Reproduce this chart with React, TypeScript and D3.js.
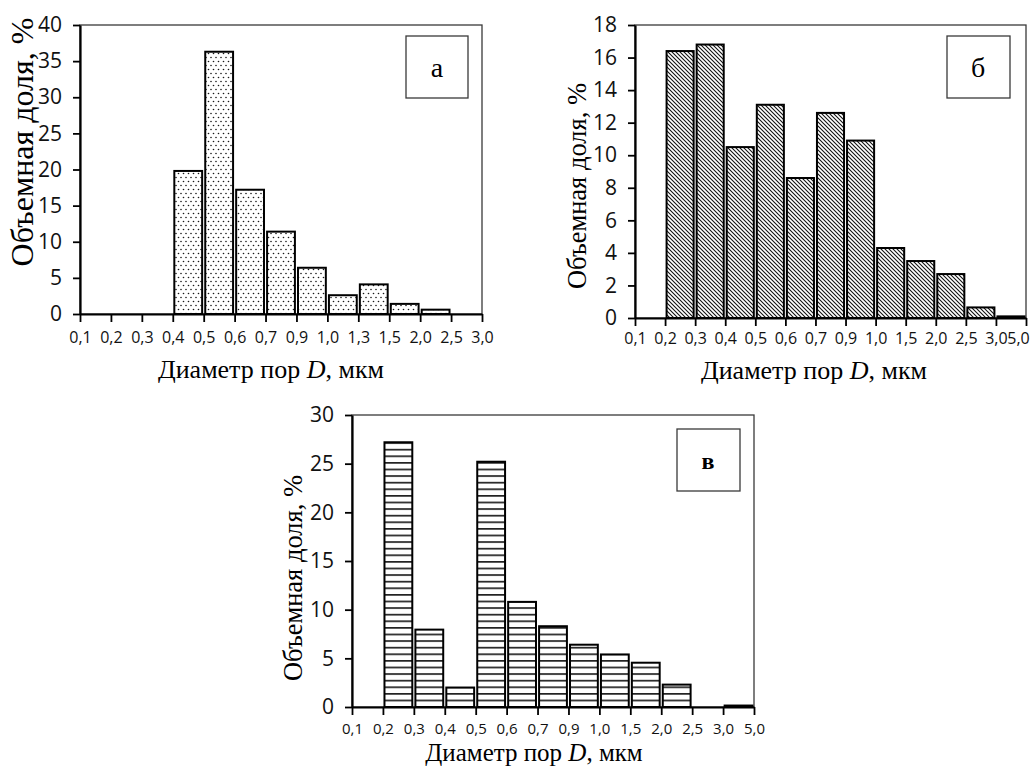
import { useEffect, useRef } from 'react'
import * as d3 from 'd3'

// границы интервалов диаметра пор, мкм (подписи оси X)
const edgesA = ['0,1', '0,2', '0,3', '0,4', '0,5', '0,6', '0,7', '0,9', '1,0', '1,3', '1,5', '2,0', '2,5', '3,0']
const edgesB = ['0,1', '0,2', '0,3', '0,4', '0,5', '0,6', '0,7', '0,9', '1,0', '1,5', '2,0', '2,5', '3,0', '5,0']
const edgesV = ['0,1', '0,2', '0,3', '0,4', '0,5', '0,6', '0,7', '0,9', '1,0', '1,5', '2,0', '2,5', '3,0', '5,0']

// объемная доля, % (по интервалам)
const shareA = [0, 0, 0, 19.8, 36.3, 17.2, 11.4, 6.4, 2.6, 4.1, 1.4, 0.6, 0]
const shareB = [0, 16.4, 16.8, 10.5, 13.1, 8.6, 12.6, 10.9, 4.3, 3.5, 2.7, 0.65, 0.1]
const shareV = [0, 27.2, 7.95, 2.0, 25.2, 10.8, 8.3, 6.4, 5.4, 4.55, 2.3, 0, 0.15]

const yTitle = 'Объемная доля, %'
const serif = '"Liberation Serif", "Times New Roman", serif'
const sans = '"Open Sans", "Noto Sans", sans-serif'

const panels = [
    {
        edges: edgesA, values: shareA, yMax: 40, yStep: 5, fill: 'url(#dots)', label: 'а', labelBold: false, labelSize: 28,
        left: 80, right: 482, top: 25, bottom: 314, xPad: 10, lastShift: 0, xTickSize: 16,
        box: [406, 36, 62, 62], labelX: 437, labelY: 77,
        yTitleX: 33, yTitleY: 142, yTitleSize: 32,
        xTitleX: 271, xTitleY: 378, xTitleSize: 26,
    },
    {
        edges: edgesB, values: shareB, yMax: 18, yStep: 2, fill: 'url(#diag)', label: 'б', labelBold: false, labelSize: 28,
        left: 635, right: 1026, top: 25, bottom: 318, xPad: 7, lastShift: -8, xTickSize: 16,
        box: [947, 36, 63, 62], labelX: 978, labelY: 77,
        yTitleX: 586, yTitleY: 186, yTitleSize: 26.5,
        xTitleX: 814, xTitleY: 379, xTitleSize: 26,
    },
    {
        edges: edgesV, values: shareV, yMax: 30, yStep: 5, fill: 'url(#hlines)', label: 'в', labelBold: true, labelSize: 24,
        left: 352, right: 754, top: 415, bottom: 707, xPad: 8, lastShift: 0, xTickSize: 15,
        box: [677, 429, 63, 62], labelX: 708, labelY: 469,
        yTitleX: 302, yTitleY: 578, yTitleSize: 26.5,
        xTitleX: 534, xTitleY: 761, xTitleSize: 25,
    },
]

const drawPanel = (root: any, cfg: any) => {
    const g = root.append('g')
    const bins = cfg.values.map((v: number, i: number) => ({ key: cfg.edges[i] + '-' + cfg.edges[i + 1], v }))

    const xEdge = d3.scalePoint<string>().domain(cfg.edges).range([cfg.left, cfg.right])
    const xBin = d3.scaleBand<string>()
        .domain(bins.map((d: any) => d.key))
        .range([cfg.left, cfg.right])
        .paddingInner(0.1)
        .paddingOuter(0.05)
    const y = d3.scaleLinear().domain([0, cfg.yMax]).range([cfg.bottom, cfg.top])

    // рамка области построения
    g.append('rect')
        .attr('x', cfg.left).attr('y', cfg.top)
        .attr('width', cfg.right - cfg.left).attr('height', cfg.bottom - cfg.top)
        .attr('fill', 'none').attr('stroke', '#3a3a3a').attr('stroke-width', 1.3)

    g.append('g')
        .selectAll('rect')
        .data(bins.filter((d: any) => d.v > 0))
        .enter()
        .append('rect')
        .attr('x', (d: any) => xBin(d.key))
        .attr('y', (d: any) => y(d.v))
        .attr('width', xBin.bandwidth())
        .attr('height', (d: any) => y(0) - y(d.v))
        .attr('fill', cfg.fill)
        .attr('stroke', '#000')
        .attr('stroke-width', 2)

    const yAxis = d3.axisLeft(y)
        .tickValues(d3.range(0, cfg.yMax + cfg.yStep / 2, cfg.yStep))
        .tickSize(7).tickSizeOuter(0).tickPadding(11)
        .tickFormat(d3.format('d') as any)
    const ya = g.append('g').attr('transform', `translate(${cfg.left},0)`).call(yAxis)

    const xAxis = d3.axisBottom(xEdge).tickSize(8).tickSizeOuter(0).tickPadding(cfg.xPad)
    const xa = g.append('g').attr('transform', `translate(0,${cfg.bottom})`).call(xAxis)

    ;[ya, xa].forEach(a => {
        a.select('.domain').attr('stroke', '#000').attr('stroke-width', 2.2)
        a.selectAll('.tick line').attr('stroke', '#000').attr('stroke-width', 1.8)
        a.selectAll('.tick text').attr('fill', '#111').style('font-family', sans)
    })
    ya.selectAll('.tick text').style('font-size', '21px')
    xa.selectAll('.tick text').style('font-size', cfg.xTickSize + 'px')
    // последняя подпись у края листа чуть сдвинута влево
    xa.selectAll('.tick text').filter((d: any, i: number, n: any) => i === n.length - 1).attr('dx', cfg.lastShift)

    // подпись панели
    const [bx, by, bw, bh] = cfg.box
    g.append('rect').attr('x', bx).attr('y', by).attr('width', bw).attr('height', bh)
        .attr('fill', '#fff').attr('stroke', '#3a3a3a').attr('stroke-width', 1.3)
    g.append('text').attr('x', cfg.labelX).attr('y', cfg.labelY)
        .attr('text-anchor', 'middle')
        .style('font-family', serif).style('font-size', cfg.labelSize + 'px')
        .style('font-weight', cfg.labelBold ? 'bold' : 'normal')
        .text(cfg.label)

    g.append('text')
        .attr('transform', `translate(${cfg.yTitleX},${cfg.yTitleY}) rotate(-90)`)
        .attr('text-anchor', 'middle')
        .style('font-family', serif).style('font-size', cfg.yTitleSize + 'px')
        .text(yTitle)

    const xt = g.append('text').attr('x', cfg.xTitleX).attr('y', cfg.xTitleY)
        .attr('text-anchor', 'middle')
        .style('font-family', serif).style('font-size', cfg.xTitleSize + 'px')
    xt.append('tspan').text('Диаметр пор ')
    xt.append('tspan').style('font-style', 'italic').text('D')
    xt.append('tspan').text(', мкм')
}

export default function App() {
    const ref = useRef<SVGSVGElement>(null)

    useEffect(() => {
        const svg = d3.select(ref.current)
        svg.selectAll('g.charts').remove()
        const root = svg.append('g').attr('class', 'charts')
        panels.forEach(p => drawPanel(root, p))
    }, [])

    return (
        <svg ref={ref} width={1035} height={771}
             style={{ position: 'absolute', left: 0, top: 0, background: '#fff' }}>
            <defs>
                <pattern id="dots" width="5" height="8" patternUnits="userSpaceOnUse">
                    <rect width="5" height="8" fill="#fff" />
                    <circle cx="1" cy="1.5" r="0.8" fill="#1a1a1a" />
                    <circle cx="3.5" cy="5.5" r="0.8" fill="#1a1a1a" />
                </pattern>
                <pattern id="diag" width="4" height="4" patternUnits="userSpaceOnUse">
                    <rect width="4" height="4" fill="#fff" />
                    <path d="M0,0 L4,4 M-1,3 L1,5 M3,-1 L5,1" stroke="#111" strokeWidth="1.1" />
                </pattern>
                <pattern id="hlines" width="8" height="6.6" patternUnits="userSpaceOnUse">
                    <rect width="8" height="6.6" fill="#fff" />
                    <rect y="0" width="8" height="1.7" fill="#222" />
                </pattern>
            </defs>
        </svg>
    )
}
